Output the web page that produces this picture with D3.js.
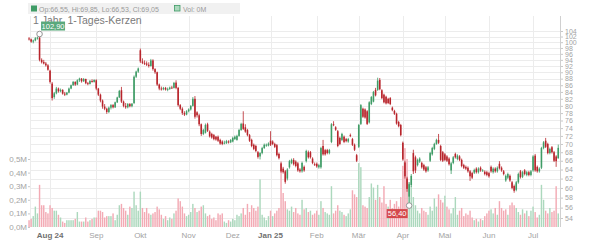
<!DOCTYPE html>
<html>
<head>
<meta charset="utf-8">
<script src="https://cdnjs.cloudflare.com/ajax/libs/d3/7.8.5/d3.min.js"></script>
<style>
html,body{margin:0;padding:0;background:#fff;}
svg{display:block;font-family:"Liberation Sans",Arial,sans-serif;}
</style>
</head>
<body>
<svg id="chart" width="600" height="240"></svg>
<script>
const opens = [
101.3,101.0,100.2,100.6,101.4,101.6,94.0,93.3,92.8,92.2,
90.5,86.5,82.5,83.6,85.0,84.2,84.6,83.5,83.2,83.8,
85.0,86.0,87.0,86.2,87.5,88.0,87.2,87.9,86.6,86.4,
87.3,87.0,87.5,85.0,83.2,81.5,79.8,79.2,78.3,79.5,
80.2,79.6,81.0,82.4,84.5,81.2,80.0,79.6,80.5,79.9,
80.8,88.6,90.2,97.2,93.5,93.0,92.8,92.4,92.0,93.8,
91.0,90.0,86.2,85.0,84.8,85.2,84.7,84.9,85.3,85.2,
86.8,85.2,80.2,79.2,78.0,77.6,78.5,79.0,80.0,82.0,
78.2,77.4,75.0,72.5,72.8,75.0,73.1,72.5,72.2,71.8,
71.8,71.0,70.6,70.3,70.2,70.6,70.4,70.6,71.2,71.0,
72.0,73.5,75.2,74.2,73.5,72.2,71.0,69.8,69.5,68.0,
67.0,67.8,69.0,69.6,69.6,70.8,70.6,70.0,69.7,67.6,
65.4,64.2,63.6,62.0,64.5,65.5,66.2,65.8,65.4,64.0,
63.6,64.6,65.9,68.0,68.0,66.5,65.2,65.3,64.5,64.5,
69.5,68.5,68.5,67.8,70.5,75.0,74.2,73.2,71.5,71.0,
71.8,71.2,70.6,72.2,71.2,69.8,67.3,69.3,75.1,79.2,
79.0,78.5,75.5,80.5,81.2,84.6,84.6,87.6,84.5,83.2,
82.6,82.0,82.2,79.5,78.6,77.8,75.6,74.8,70.3,65.6,
62.0,58.2,60.6,67.8,66.8,65.0,65.8,65.5,65.0,64.5,
63.8,66.0,67.5,68.8,70.0,71.0,69.5,68.0,67.5,67.0,
66.5,63.8,65.5,67.6,66.4,67.0,66.2,65.0,64.6,64.4,
63.6,63.2,63.3,64.2,63.4,64.4,63.8,63.5,63.4,63.2,
64.6,63.4,64.2,63.6,65.3,64.4,63.6,61.6,62.2,62.6,
61.2,60.4,59.6,61.2,63.6,62.4,63.8,62.8,63.4,62.8,
63.8,67.2,64.6,63.6,64.4,69.0,70.8,70.0,67.8,69.2,
68.0,67.0,66.55];
const highs = [
101.8,101.3,100.9,101.8,102.0,102.9,94.5,94.0,93.3,92.6,
90.8,87.0,84.0,85.5,85.3,85.0,84.8,84.0,84.0,85.3,
86.2,87.3,87.2,87.8,88.3,88.2,88.2,88.0,87.0,87.6,
87.8,87.8,87.8,85.2,83.5,81.8,80.5,79.5,79.8,80.5,
80.5,81.2,82.6,84.6,85.5,81.5,80.8,80.8,80.8,80.8,
89.0,90.5,91.5,97.8,94.5,93.8,93.5,93.2,94.3,94.2,
91.3,90.2,86.5,85.6,85.5,85.5,85.3,85.6,85.8,87.0,
87.5,85.5,80.5,79.6,78.5,78.8,79.3,80.2,82.5,82.8,
78.5,77.8,75.2,73.8,75.2,75.4,73.4,72.8,72.5,72.0,
72.1,71.3,70.9,70.8,71.0,70.9,71.2,71.8,72.1,72.3,
73.8,75.4,78.5,75.0,73.8,72.5,71.3,70.1,69.8,68.3,
68.0,69.3,70.1,70.1,70.4,73.2,70.9,70.3,70.0,67.9,
65.8,64.6,63.9,64.3,66.2,66.5,66.6,66.1,65.7,64.3,
65.8,64.9,68.6,68.4,68.3,66.8,65.6,65.6,65.3,69.3,
71.0,68.8,68.8,68.8,75.3,75.8,74.5,73.5,71.8,72.8,
72.1,71.5,71.5,72.6,71.5,70.1,67.6,75.1,80.5,79.5,
79.3,78.8,81.3,82.8,84.3,85.2,88.3,88.2,84.8,83.5,
82.9,82.3,82.5,79.8,78.9,78.1,75.9,75.1,70.6,66.0,
62.4,61.2,63.0,68.6,67.2,66.5,66.8,65.8,65.3,64.8,
64.8,68.1,69.3,70.3,71.3,72.5,69.8,68.3,67.8,67.3,
66.8,65.7,67.1,67.9,67.5,67.3,66.5,65.3,64.9,64.7,
63.9,63.5,64.2,64.5,64.5,64.7,64.1,63.8,63.7,63.5,
64.9,64.5,64.5,64.7,65.9,64.7,63.9,62.9,63.3,62.9,
61.5,60.7,61.5,63.3,63.9,63.7,64.1,63.7,63.7,63.9,
67.3,67.6,64.9,64.5,69.3,70.7,71.5,70.3,69.1,69.5,
68.3,67.3,69.85];
const lows = [
100.6,99.8,99.6,100.3,100.9,93.5,92.8,92.5,91.8,90.5,
86.5,81.5,82.0,83.3,83.8,83.9,83.2,82.8,83.0,83.6,
84.8,85.8,85.8,86.0,87.0,86.8,87.0,86.3,86.0,86.2,
86.8,86.8,84.5,82.8,81.0,79.2,78.8,77.8,78.0,79.0,
79.3,79.4,80.8,82.2,80.8,79.6,79.2,79.3,79.6,79.6,
80.5,88.2,89.8,93.0,92.6,92.3,92.0,91.5,91.8,90.5,
89.5,85.8,84.5,84.4,84.5,84.4,84.2,84.6,84.9,85.0,
84.8,79.8,78.8,77.5,77.2,77.4,78.2,78.7,79.8,76.5,
76.8,74.5,72.0,72.2,72.6,73.0,71.6,71.3,70.9,70.8,
70.5,69.8,69.7,69.9,70.0,70.1,70.2,70.4,71.0,70.8,
71.8,73.3,73.5,72.8,71.9,70.5,69.2,68.5,68.0,66.5,
66.3,67.5,68.8,69.3,69.4,69.5,69.7,69.0,67.0,66.3,
63.3,63.1,60.9,61.6,64.2,65.2,64.9,64.5,63.5,63.3,
63.3,63.5,65.6,66.5,66.5,65.2,64.8,64.4,64.2,64.2,
67.2,67.2,67.5,67.5,70.2,74.5,73.3,69.2,69.7,70.7,
70.2,70.4,70.3,71.7,69.5,68.3,65.7,69.0,74.8,76.7,
76.5,74.8,75.2,80.2,81.0,82.7,84.3,84.5,81.9,80.7,
80.4,80.5,80.2,78.5,77.5,74.9,74.2,71.9,66.0,62.0,
59.2,56.4,60.2,63.0,63.2,64.7,65.5,64.2,63.7,63.3,
63.5,65.7,67.2,68.5,69.8,70.0,65.9,65.7,65.9,65.7,
64.9,63.0,65.2,66.5,66.1,65.9,64.5,64.1,63.9,63.3,
61.5,61.9,63.0,63.1,63.1,63.5,63.5,62.7,62.5,62.2,
63.3,63.1,63.3,63.3,64.0,63.5,62.7,61.3,61.9,61.3,
59.7,59.0,59.3,60.9,62.0,62.1,62.7,62.5,62.5,62.5,
63.5,63.5,63.3,63.3,64.1,68.7,69.0,67.5,67.5,67.7,
65.7,64.6,66.53];
const closes = [
101.0,100.2,100.6,101.4,101.6,94.0,93.2,92.8,92.2,90.8,
87.0,82.2,83.6,85.0,84.2,84.6,83.5,83.2,83.8,85.0,
86.0,87.0,86.2,87.5,88.0,87.2,87.9,86.6,86.4,87.3,
87.0,87.6,85.0,83.2,81.5,79.8,79.2,78.3,79.5,80.2,
79.6,81.0,82.4,84.3,81.2,80.0,79.6,80.5,79.9,80.6,
88.6,90.2,91.2,93.5,93.0,92.8,92.4,92.0,93.8,91.0,
90.0,86.2,85.0,84.8,85.2,84.7,84.9,85.3,85.2,86.7,
85.2,80.2,79.2,78.0,77.6,78.5,79.0,80.0,82.0,77.0,
77.4,75.0,72.5,73.5,74.8,73.3,71.9,71.6,71.2,71.1,
70.8,70.1,70.0,70.3,70.7,70.4,71.0,71.5,71.8,72.0,
73.5,75.1,73.8,73.1,72.2,70.8,69.5,68.8,68.3,66.9,
67.8,69.0,69.8,69.8,70.1,69.8,70.0,69.3,67.3,66.6,
63.6,63.4,61.3,64.0,65.9,66.2,65.2,64.8,63.8,63.6,
65.5,63.8,68.3,66.8,66.8,65.5,65.1,64.7,65.0,69.0,
67.5,67.5,67.8,68.5,75.0,74.8,73.6,69.5,70.0,72.5,
70.5,70.7,71.2,72.0,69.8,68.6,66.0,74.8,80.2,77.0,
76.8,75.1,81.0,82.5,84.0,83.0,87.4,84.8,82.2,81.0,
80.7,80.8,80.5,78.8,77.8,75.2,74.5,72.2,66.3,62.5,
59.8,60.8,62.6,63.6,63.8,66.2,66.5,64.5,64.0,63.6,
64.5,67.8,69.0,70.0,71.0,70.3,66.2,66.0,66.2,66.0,
65.2,65.4,66.8,66.8,67.2,66.2,64.8,64.4,64.2,63.6,
62.5,62.2,63.9,63.4,64.2,63.8,63.8,63.0,62.8,62.5,
63.6,64.2,63.6,64.4,64.3,63.8,63.0,62.6,63.0,61.6,
60.0,59.4,61.2,63.0,62.3,63.4,63.0,63.4,62.8,63.6,
67.0,63.8,63.6,64.2,69.0,70.4,69.3,67.8,68.8,68.0,
66.0,65.9,69.05];
// volume in millions
const volumes = [
0.05,0.06,0.08,0.15,0.10,0.31,0.16,0.16,0.11,0.10,
0.16,0.14,0.12,0.12,0.09,0.07,0.04,0.03,0.05,0.05,
0.05,0.05,0.06,0.11,0.04,0.04,0.04,0.07,0.04,0.05,
0.06,0.07,0.07,0.12,0.12,0.11,0.07,0.08,0.08,0.08,
0.10,0.05,0.09,0.16,0.17,0.14,0.12,0.09,0.15,0.14,
0.26,0.16,0.12,0.26,0.14,0.11,0.14,0.10,0.09,0.10,
0.11,0.15,0.13,0.09,0.06,0.08,0.05,0.07,0.06,0.10,
0.12,0.21,0.19,0.15,0.10,0.08,0.09,0.11,0.17,0.14,
0.11,0.12,0.15,0.16,0.10,0.08,0.09,0.06,0.07,0.05,
0.10,0.09,0.10,0.04,0.03,0.05,0.04,0.06,0.05,0.09,
0.08,0.10,0.14,0.09,0.17,0.11,0.16,0.14,0.12,0.15,
0.35,0.09,0.07,0.05,0.08,0.12,0.08,0.10,0.12,0.14,
0.42,0.25,0.19,0.13,0.12,0.15,0.11,0.14,0.10,0.09,
0.20,0.13,0.14,0.11,0.12,0.09,0.10,0.12,0.09,0.19,
0.14,0.11,0.10,0.09,0.30,0.10,0.12,0.16,0.12,0.11,
0.09,0.08,0.10,0.13,0.27,0.24,0.22,0.47,0.44,0.16,
0.15,0.14,0.22,0.32,0.29,0.20,0.31,0.22,0.18,0.30,
0.17,0.15,0.20,0.14,0.17,0.19,0.15,0.22,0.45,0.58,
0.50,0.33,0.30,0.22,0.16,0.12,0.10,0.14,0.12,0.11,
0.09,0.15,0.12,0.21,0.15,0.24,0.20,0.18,0.23,0.15,
0.13,0.10,0.14,0.22,0.09,0.12,0.14,0.08,0.10,0.09,
0.12,0.07,0.05,0.06,0.04,0.06,0.05,0.08,0.10,0.12,
0.13,0.10,0.14,0.09,0.19,0.14,0.12,0.13,0.09,0.16,
0.18,0.16,0.14,0.11,0.09,0.13,0.10,0.12,0.08,0.12,
0.15,0.11,0.07,0.09,0.31,0.20,0.12,0.10,0.14,0.11,
0.12,0.30,0.10];

const priceTicks = [104,102,100,98,96,94,92,90,88,86,84,82,80,78,76,74,72,70,68,66,64,62,60,58,56,54];
const volumeTicks = [0,0.1,0.2,0.3,0.4,0.5];
const monthNames = ["Jan","Feb","Mär","Apr","Mai","Jun","Jul","Aug","Sep","Okt","Nov","Dez"];
const startDate = "2024-07-18";
const holidays = ["2024-12-24","2024-12-25","2024-12-26","2024-12-31","2025-01-01","2025-04-18","2025-04-21","2025-05-01"];
const title = "1 Jahr, 1-Tages-Kerzen";

const UP = "#3f9c66", DOWN = "#b8242b", VUP = "#acd8bd", VDOWN = "#f3aab4";
const GRID = "#ececec", TXT = "#a3a3a3";

const n = closes.length;
const parse = d3.utcParse("%Y-%m-%d"), fmtD = d3.utcFormat("%Y-%m-%d");
const hol = new Set(holidays);
const dates = [];
let cur = parse(startDate);
while (dates.length < n) {
  const wd = cur.getUTCDay();
  if (wd !== 0 && wd !== 6 && !hol.has(fmtD(cur))) dates.push(cur);
  cur = d3.utcDay.offset(cur, 1);
}
const monthStarts = d3.range(1, n).filter(i => dates[i].getUTCMonth() !== dates[i-1].getUTCMonth());

const plotL = 30, plotR = 560, plotT = 16, plotB = 227;
const x = d3.scaleBand().domain(d3.range(n)).range([28, 559.3]);
const bw = x.bandwidth();
const cx = i => x(i) + bw / 2;
const y = d3.scaleLog().domain([54, 104]).range([218, 31]);
const v = d3.scaleLinear().domain([0, 0.5]).range([plotB, 159]);
const deNum = (d, k) => d.toFixed(k).replace(".", ",");

const svg = d3.select("#chart");

// gridlines
svg.append("g").selectAll("line").data(priceTicks).join("line")
  .attr("x1", plotL).attr("x2", plotR)
  .attr("y1", d => Math.round(y(d)) + 0.5).attr("y2", d => Math.round(y(d)) + 0.5)
  .attr("stroke", GRID).attr("stroke-width", 1);
svg.append("g").selectAll("line").data(monthStarts).join("line")
  .attr("x1", i => Math.round(cx(i)) + 0.5).attr("x2", i => Math.round(cx(i)) + 0.5)
  .attr("y1", plotT).attr("y2", plotB)
  .attr("stroke", GRID).attr("stroke-width", 1);
svg.append("line").attr("x1", plotL + 0.5).attr("x2", plotL + 0.5).attr("y1", plotT).attr("y2", plotB)
  .attr("stroke", GRID);

// volume bars
const vw = bw * 0.68;
svg.append("g").selectAll("rect").data(volumes).join("rect")
  .attr("x", (d, i) => cx(i) - vw / 2)
  .attr("width", vw)
  .attr("y", d => v(d))
  .attr("height", d => plotB - v(d))
  .attr("fill", (d, i) => (i === 0 ? closes[0] >= opens[0] : closes[i] >= closes[i-1]) ? VUP : VDOWN);

// candles
const cg = svg.append("g");
const idx = d3.range(n);
const col = i => closes[i] >= opens[i] ? UP : DOWN;
cg.selectAll("line").data(idx).join("line")
  .attr("x1", cx).attr("x2", cx)
  .attr("y1", i => y(highs[i])).attr("y2", i => y(lows[i]))
  .attr("stroke", col).attr("stroke-width", 0.8);
const cw = bw * 0.75;
cg.selectAll("rect").data(idx).join("rect")
  .attr("x", i => cx(i) - cw / 2).attr("width", cw)
  .attr("y", i => Math.min(y(opens[i]), y(closes[i])))
  .attr("height", i => Math.max(0.9, Math.abs(y(opens[i]) - y(closes[i]))))
  .attr("fill", col);

// right price axis
const ra = svg.append("g").attr("transform", `translate(${plotR},0)`)
  .call(d3.axisRight(y).tickValues(priceTicks).tickFormat(d3.format("d")).tickSize(3).tickPadding(2));
ra.select(".domain").remove();
ra.selectAll("line").attr("stroke", "#c8c8c8");
ra.selectAll("text").attr("fill", TXT).style("font-size", "7px");
svg.append("line").attr("x1", plotR + 0.5).attr("x2", plotR + 0.5).attr("y1", plotT).attr("y2", plotB)
  .attr("stroke", "#d0d0d0");

// left volume axis
const la = svg.append("g").attr("transform", `translate(${plotL},0)`)
  .call(d3.axisLeft(v).tickValues(volumeTicks).tickFormat(d => deNum(d, 1) + "M").tickSize(2).tickPadding(1));
la.select(".domain").remove();
la.selectAll("line").attr("stroke", "#c8c8c8");
la.selectAll("text").attr("fill", TXT).style("font-size", "8px");

// bottom month axis
const ba = svg.append("g").attr("transform", `translate(0,${plotB})`)
  .call(d3.axisBottom(x).tickValues(monthStarts).tickSize(0).tickPadding(5)
    .tickFormat((i, k) => {
      const m = dates[i].getUTCMonth();
      const yr = d3.utcFormat("%y")(dates[i]);
      return (k === 0 || m === 0) ? `${monthNames[m]} ${yr}` : monthNames[m];
    }));
ba.select(".domain").remove();
ba.selectAll("text").style("font-size", "8px")
  .attr("fill", (i, k) => (k === 0 || dates[i].getUTCMonth() === 0) ? "#707070" : TXT)
  .style("font-weight", (i, k) => (k === 0 || dates[i].getUTCMonth() === 0) ? "bold" : "normal");

// legend row
const last = n - 1;
svg.append("rect").attr("x", 28).attr("y", 3).attr("width", 212).attr("height", 11).attr("fill", "#f1f1f1");
svg.append("rect").attr("x", 31).attr("y", 5.5).attr("width", 6).attr("height", 6).attr("fill", UP);
svg.append("text").attr("x", 39).attr("y", 11.5).attr("fill", "#9a9a9a").style("font-size", "7px")
  .text(`Op:${deNum(opens[last],2)}, Hi:${deNum(highs[last],2)}, Lo:${deNum(lows[last],2)}, Cl:${deNum(closes[last],2)}`);
svg.append("rect").attr("x", 174.5).attr("y", 5.5).attr("width", 5.5).attr("height", 5.5)
  .attr("fill", VUP).attr("stroke", UP).attr("stroke-width", 0.8);
svg.append("text").attr("x", 183).attr("y", 11.5).attr("fill", "#9a9a9a").style("font-size", "7px")
  .text(`Vol: ${Math.round(volumes[last])}M`);

// title
svg.append("text").attr("x", 33).attr("y", 24).attr("fill", "#7a7a7a").style("font-size", "10.5px").text(title);

// max / min markers
const iMax = d3.maxIndex(highs), iMin = d3.minIndex(lows);
const hx = cx(iMax), hy = y(highs[iMax]);
svg.append("rect").attr("x", hx + 1.5).attr("y", hy - 12.5).attr("width", 24).attr("height", 9).attr("fill", "#5aa97c");
svg.append("text").attr("x", hx + 13.5).attr("y", hy - 5.5).attr("text-anchor", "middle").attr("fill", "#fff")
  .style("font-size", "7.5px").text(deNum(highs[iMax], 2));
svg.append("circle").attr("cx", hx).attr("cy", hy).attr("r", 2.8).attr("fill", "#fff").attr("stroke", "#8a8a8a").attr("stroke-width", 0.9);

const lx = cx(iMin), ly = y(lows[iMin]);
svg.append("rect").attr("x", lx - 22.5).attr("y", ly + 3.5).attr("width", 21).attr("height", 9).attr("fill", "#d4484c");
svg.append("text").attr("x", lx - 12).attr("y", ly + 10.5).attr("text-anchor", "middle").attr("fill", "#fff")
  .style("font-size", "7.5px").text(deNum(lows[iMin], 2));
svg.append("circle").attr("cx", lx).attr("cy", ly).attr("r", 2.8).attr("fill", "#fff").attr("stroke", "#8a8a8a").attr("stroke-width", 0.9);
</script>
</body>
</html>
